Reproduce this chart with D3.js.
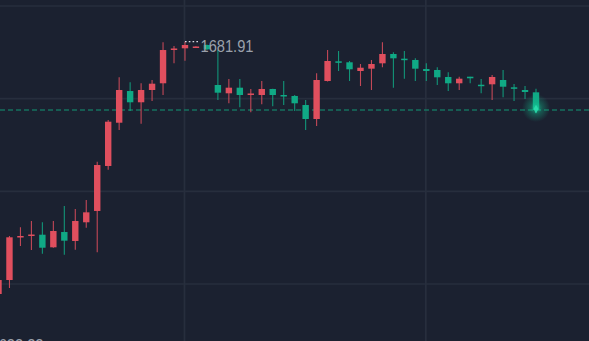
<!DOCTYPE html>
<html><head><meta charset="utf-8">
<script src="https://cdn.jsdelivr.net/npm/d3@7/dist/d3.min.js"></script>
<style>
html,body{margin:0;padding:0;background:#1b2130;overflow:hidden;}
svg{display:block;}
</style></head>
<body>
<svg id="chart" width="589" height="341"></svg>
<script>
// ---- data ----
const candleIndex = d3.range(50);
const opens  = [1627.44,1630.46,1639.64,1640.07,1640.24,1637.52,1640.82,1638.88,1642.92,1645.36,1655.07,1664.41,1671.25,1668.82,1671.47,1672.92,1680.21,1680.47,1680.75,1681.18,1672.55,1670.76,1671.97,1670.50,1670.39,1671.69,1670.39,1670.18,1668.23,1665.21,1673.41,1677.66,1677.45,1675.57,1676.07,1677.23,1679.24,1678.23,1677.95,1676.00,1675.79,1674.28,1672.92,1674.34,1672.61,1672.70,1673.63,1672.05,1671.47,1670.97];
const closes = [1630.46,1639.68,1639.96,1640.28,1637.43,1641.04,1638.95,1643.20,1645.07,1655.28,1664.63,1671.47,1668.82,1671.47,1672.83,1680.10,1680.43,1681.18,1680.86,1680.25,1670.89,1671.97,1670.39,1670.72,1671.69,1670.39,1670.22,1668.60,1665.21,1673.63,1677.73,1677.45,1675.94,1676.28,1677.08,1679.24,1678.31,1678.01,1676.07,1675.57,1674.21,1672.92,1673.91,1674.00,1672.44,1674.28,1672.18,1671.84,1671.04,1667.15];
const highs  = [1630.68,1639.96,1641.84,1643.20,1642.92,1643.20,1646.43,1645.79,1647.73,1655.99,1665.00,1674.21,1673.13,1672.92,1673.63,1681.77,1680.97,1681.91,1680.90,1681.29,1680.10,1673.84,1673.84,1671.69,1673.41,1671.75,1673.41,1670.39,1669.31,1675.07,1680.10,1679.89,1677.73,1677.08,1677.95,1681.77,1679.61,1679.89,1678.31,1677.23,1676.37,1675.29,1674.34,1674.34,1673.84,1674.71,1675.79,1672.77,1672.33,1671.75];
const lows   = [1627.01,1628.74,1637.80,1636.94,1636.14,1637.45,1635.92,1637.00,1641.75,1636.44,1654.27,1662.84,1666.94,1664.20,1669.10,1670.39,1677.23,1677.79,1680.71,1680.10,1669.31,1668.60,1667.74,1666.66,1668.38,1667.95,1668.23,1666.94,1662.84,1663.70,1673.30,1675.57,1673.41,1672.33,1671.47,1676.37,1671.97,1673.91,1673.41,1673.41,1672.55,1671.25,1671.47,1672.92,1670.76,1669.31,1669.90,1669.10,1669.53,1666.51];
const gridPrices = [1689.6, 1669.6, 1649.6, 1629.6];
const gridCandles = [17, 39];
const maxLabel = "1681.91";
const minLabel = "1622.22";
const lastPrice = closes[closes.length - 1];

// ---- drawing ----
const W = 589, H = 341;
const svg = d3.select("#chart");
const UP = "#e04f5e", DOWN = "#10a985";

const x = d3.scalePoint().domain(candleIndex).range([-1.5, 536]);
const y = d3.scaleLinear().domain([1689.6, 1629.6]).range([6, 284]);
const bodyW = 6.4;

svg.append("rect").attr("width", W).attr("height", H).attr("fill", "#1b2130");

// grid
svg.append("g").selectAll("line").data(gridPrices).join("line")
  .attr("x1", 0).attr("x2", W).attr("y1", d => y(d)).attr("y2", d => y(d))
  .attr("stroke", "#272e3d").attr("stroke-width", 1.6);
svg.append("g").selectAll("line").data(gridCandles).join("line")
  .attr("x1", d => x(d) - 0.5).attr("x2", d => x(d) - 0.5).attr("y1", 0).attr("y2", H)
  .attr("stroke", "#272e3d").attr("stroke-width", 1.8);

// current price dashed line
svg.append("line")
  .attr("x1", 0).attr("x2", W).attr("y1", y(lastPrice)).attr("y2", y(lastPrice))
  .attr("stroke", "#16705e").attr("stroke-width", 1.3).attr("stroke-dasharray", "5,3");

const data = candleIndex.map(i => ({i, o: opens[i], c: closes[i], h: highs[i], l: lows[i]}));
const g = svg.append("g");
g.selectAll("line.wick").data(data).join("line").attr("class", "wick")
  .attr("x1", d => x(d.i)).attr("x2", d => x(d.i))
  .attr("y1", d => y(d.h)).attr("y2", d => y(d.l))
  .attr("stroke", d => d.c >= d.o ? UP : DOWN).attr("stroke-width", 1.1).attr("stroke-opacity", 0.85);
g.selectAll("rect.body").data(data).join("rect").attr("class", "body")
  .attr("x", d => x(d.i) - bodyW / 2).attr("width", bodyW)
  .attr("y", d => Math.min(y(d.o), y(d.c)))
  .attr("height", d => Math.max(1.5, Math.abs(y(d.o) - y(d.c))))
  .attr("fill", d => d.c >= d.o ? UP : DOWN);

// glow on last candle
const defs = svg.append("defs");
const grad = defs.append("radialGradient").attr("id", "glow");
grad.append("stop").attr("offset", "0%").attr("stop-color", "#19d6a0").attr("stop-opacity", 0.75);
grad.append("stop").attr("offset", "45%").attr("stop-color", "#12b88a").attr("stop-opacity", 0.35);
grad.append("stop").attr("offset", "100%").attr("stop-color", "#12b88a").attr("stop-opacity", 0);
const last = data[data.length - 1];
svg.append("circle").attr("cx", x(last.i)).attr("cy", y(lastPrice) - 2).attr("r", 14).attr("fill", "url(#glow)");
svg.append("path")
  .attr("d", d3.symbol().type(d3.symbolDiamond).size(22)())
  .attr("transform", `translate(${x(last.i)},${y(lastPrice) - 1})`)
  .attr("fill", "#2ee0b0").attr("opacity", 0.8);

// max marker
const maxI = d3.maxIndex(highs);
svg.append("line")
  .attr("x1", x(maxI)).attr("x2", x(maxI) + 13).attr("y1", y(highs[maxI])).attr("y2", y(highs[maxI]))
  .attr("stroke", "#d8dbe2").attr("stroke-width", 1.3).attr("stroke-dasharray", "1.6,2.2");
svg.append("text").attr("x", 200.5).attr("y", 51.7)
  .attr("font-family", "Liberation Sans, Arial, sans-serif").attr("font-size", 17)
  .attr("textLength", 53).attr("lengthAdjust", "spacingAndGlyphs")
  .attr("fill", "#9aa0ab").text(maxLabel);

// min label (cut at bottom-left)
svg.append("text").attr("x", -9.5).attr("y", 350.5)
  .attr("font-family", "Liberation Sans, Arial, sans-serif").attr("font-size", 17)
  .attr("textLength", 53).attr("lengthAdjust", "spacingAndGlyphs")
  .attr("fill", "#9aa0ab").text(minLabel);
</script>
</body></html>
